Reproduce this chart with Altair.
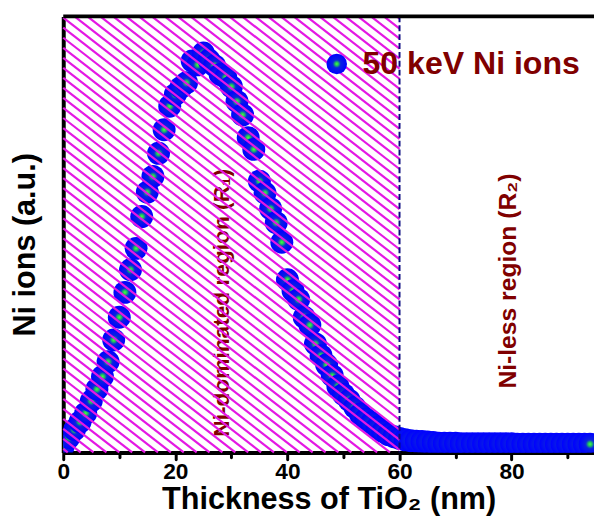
import altair as alt
import pandas as pd
import numpy as np

# ---- data ----
thickness = list(range(0, 95))
ni_ions = [
    1.4, 3.4, 5.2, 7.0, 9.0, 11.8, 14.5, 17.4, 20.8, 25.8,
    31.0, 36.7, 41.9, 46.8, 54.1, 59.7, 63.3, 68.6, 74.0, 79.4,
    82.1, 83.7, 84.8, 89.8, 88.9, 91.6, 90.0, 88.7, 86.7, 86.0,
    83.9, 80.5, 77.4, 72.2, 69.5, 62.2, 59.5, 55.9, 52.7, 48.2,
    39.6, 37.1, 35.1, 31.0, 29.2, 24.9, 22.2, 20.1, 17.6, 15.2,
    13.3, 12.0, 10.4, 8.8, 7.7, 6.8, 5.7, 4.8, 4.1, 3.6,
    3.2, 2.9, 2.7, 2.6, 2.5, 2.4, 2.3, 2.1, 2.1, 2.1,
    2.1, 2.0, 2.0, 2.0, 2.0, 2.0, 2.0, 2.0, 2.0, 2.0,
    2.0, 1.9, 1.9, 1.9, 1.9, 1.9, 1.9, 1.9, 1.9, 1.9,
    1.9, 1.9, 1.9, 1.9, 1.9,
]
x_ticks = [0, 10, 20, 30, 40, 50, 60, 70, 80, 90]
region_boundary = [60]
legend_label = ["50 keV Ni ions"]
region_labels = ["Ni-dominated region (R\u2081)", "Ni-less region (R\u2082)"]

df = pd.DataFrame({"t": thickness, "n": ni_ions})

X_MAX = 94.7
Y_MAX = 100.0
xs = alt.Scale(domain=[0, X_MAX], nice=False, zero=False)
ys = alt.Scale(domain=[0, Y_MAX], nice=False, zero=False)

FONT = "Liberation Sans"
DARKRED = "#800000"
MAGENTA = "#e418e4"
NAVY = "#0a0a80"

sphere = {
    "gradient": "radial",
    "x1": 0.5, "y1": 0.5, "r1": 0,
    "x2": 0.5, "y2": 0.5, "r2": 0.5,
    "stops": [
        {"offset": 0.0, "color": "#44ff44"},
        {"offset": 0.16, "color": "#22cc55"},
        {"offset": 0.38, "color": "#0a22e0"},
        {"offset": 1.0, "color": "#0000ff"},
    ],
}

# hatch lines (slope -1 in data units) clipped to region 0..60
b = region_boundary[0]
cs = np.arange(0.8, b + Y_MAX, 2.3)
hx1 = np.maximum(0, cs - Y_MAX)
hx2 = np.minimum(b, cs)
hatch = pd.DataFrame({"x1": hx1, "y1": cs - hx1, "x2": hx2, "y2": cs - hx2})

tick_size = {"condition": {"test": "datum.value % 20 === 0", "value": 7}, "value": 5}

XAXIS = alt.Axis(
    values=x_ticks,
    labelExpr="datum.value % 20 === 0 ? datum.label : ''",
    title="Thickness of TiO\u2082 (nm)",
    titleFont=FONT, titleFontSize=31, titleFontWeight="bold", titleColor="black",
    titleBaseline="alphabetic", titleY=57,
    labelFont=FONT, labelFontSize=23, labelFontWeight="bold", labelColor="black",
    labelPadding=1, labelFlush=False,
    tickSize=tick_size, tickWidth=3, tickColor="black", tickCap="round",
    domainColor="black", domainWidth=4, grid=False,
)
YAXIS = alt.Axis(
    title="Ni ions (a.u.)", titleAngle=270, titleX=-29, titleY=231,
    titleAlign="center", titleBaseline="alphabetic",
    titleFont=FONT, titleFontSize=31, titleFontWeight="bold", titleColor="black",
    labels=False, ticks=False, grid=False,
    domainColor="black", domainWidth=4,
)


def X(f):
    return alt.X(f, scale=xs, axis=XAXIS)


def Y(f):
    return alt.Y(f, scale=ys, axis=YAXIS)


points = alt.Chart(df).mark_circle(size=540, opacity=1, color=sphere, clip=True).encode(
    x=X("t:Q"), y=Y("n:Q"),
)

ann_df = pd.DataFrame({"x": [29.6, 80.8], "y": [34.3, 39.3], "label": region_labels})
ann1 = alt.Chart(ann_df.iloc[[0]]).mark_text(
    angle=270, align="center", baseline="alphabetic", font=FONT, fontSize=23,
    fontWeight="bold", color=DARKRED,
).encode(x=X("x:Q"), y=Y("y:Q"), text="label:N")
ann2 = alt.Chart(ann_df.iloc[[1]]).mark_text(
    angle=270, align="center", baseline="alphabetic", font=FONT, fontSize=25,
    fontWeight="bold", color=DARKRED,
).encode(x=X("x:Q"), y=Y("y:Q"), text="label:N")

hatch_layer = alt.Chart(hatch).mark_rule(color=MAGENTA, strokeWidth=2.2).encode(
    x=X("x1:Q"), y=Y("y1:Q"), x2="x2:Q", y2="y2:Q",
)

vline = alt.Chart(pd.DataFrame({"x": region_boundary})).mark_rule(
    color=NAVY, strokeWidth=2, strokeDash=[6, 3]
).encode(x=X("x:Q"))

top_df = pd.DataFrame({"x": [0.0], "x2": [X_MAX], "y": [Y_MAX]})
top_border = alt.Chart(top_df).mark_rule(color="black", strokeWidth=4).encode(
    x=X("x:Q"), x2="x2:Q", y=Y("y:Q"),
)

leg_pt = alt.Chart(pd.DataFrame({"x": [48.8], "y": [89.1]})).mark_circle(
    size=430, opacity=1, color=sphere
).encode(x=X("x:Q"), y=Y("y:Q"))

leg_txt = alt.Chart(pd.DataFrame({"x": [53.4], "y": [86.9], "label": legend_label})).mark_text(
    align="left", baseline="alphabetic", font=FONT, fontSize=32.5, fontWeight="bold", color=DARKRED,
).encode(x=X("x:Q"), y=Y("y:Q"), text="label:N")

chart = alt.layer(
    points, ann1, ann2, hatch_layer, vline, top_border, leg_pt, leg_txt
).properties(
    width=538, height=442,
    autosize=alt.AutoSizeParams(type="none"),
    padding={"left": 56, "top": 5, "right": 0, "bottom": 67},
    background="white",
).configure_view(stroke=None)

chart.save("out.html", embed_options={"renderer": "svg", "actions": False})
